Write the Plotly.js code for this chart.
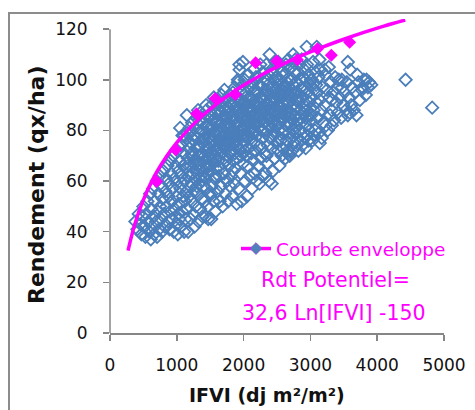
<!DOCTYPE html>
<html>
<head>
<meta charset="utf-8">
<script src="https://cdn.plot.ly/plotly-3.0.1.min.js"></script>
<style>html,body{margin:0;padding:0;background:#fff;}#chart{width:475px;height:410px;}</style>
</head>
<body>
<div id="chart"></div>
<script>
// Nuage de points (IFVI, Rendement)
const pts_0_1000 = [[380,44],[410,41],[430,47],[455,43],[470,39],[490,46],[500,50],[520,42],[530,38],[545,47],[560,52],[575,44],[590,40],[600,55],[610,37],[620,49],[635,42],[645,57],[655,46],[660,39],[670,52],[690,44],[700,60],[705,38],[715,48],[725,55],[735,41],[745,62],[750,50],[765,45],[775,58],[780,40],[790,53],[800,64],[810,47],[820,42],[830,56],[840,61],[845,50],[860,66],[865,44],[875,54],[885,59],[890,41],[900,48],[905,68],[915,63],[925,52],[935,45],[940,57],[950,70],[955,40],[965,61],[970,49],[980,66],[990,54],[995,43],[1000,59]];
const pts_1000_2000 = [[1010,72],[1015,39],[1025,64],[1030,51],[1040,45],[1045,68],[1055,57],[1060,74],[1065,42],[1070,62],[1080,48],[1085,78],[1090,54],[1095,66],[1050,81],[1075,59],[1020,47],
[1105,71],[1110,40],[1115,60],[1120,52],[1125,76],[1130,45],[1140,65],[1145,56],[1150,86],[1155,79],[1160,49],[1165,69],[1170,40],[1175,62],[1180,73],[1185,54],[1190,81],[1195,58],[1135,67],[1112,78],
[1205,45],[1210,66],[1215,75],[1220,59],[1225,52],[1230,83],[1235,70],[1240,63],[1245,47],[1250,78],[1255,56],[1260,68],[1265,42],[1270,81],[1275,61],[1280,73],[1285,50],[1290,65],[1295,85],[1298,58],[1228,71],[1262,76],
[1305,55],[1310,77],[1315,63],[1320,70],[1325,44],[1330,84],[1335,67],[1340,59],[1345,74],[1350,49],[1355,87],[1360,62],[1365,80],[1370,53],[1375,71],[1380,65],[1385,46],[1390,83],[1395,76],[1398,58],[1318,88],[1342,79],[1372,60],
[1405,68],[1410,85],[1415,52],[1420,74],[1425,61],[1430,79],[1435,46],[1440,66],[1445,88],[1450,57],[1455,72],[1460,82],[1465,63],[1470,45],[1475,77],[1480,69],[1485,55],[1490,86],[1495,73],[1412,62],[1438,90],[1462,50],[1488,66],
[1505,80],[1510,64],[1515,45],[1520,71],[1525,90],[1530,58],[1535,76],[1540,84],[1545,67],[1550,52],[1555,93],[1560,74],[1565,61],[1570,87],[1575,70],[1580,48],[1585,79],[1590,65],[1595,83],[1522,55],[1548,78],[1572,62],[1598,91],
[1605,72],[1610,56],[1615,86],[1620,68],[1625,92],[1630,62],[1635,79],[1640,52],[1645,75],[1650,88],[1655,65],[1660,83],[1665,58],[1670,71],[1675,90],[1680,77],[1685,50],[1690,67],[1695,85],[1618,80],[1642,70],[1668,94],[1692,74],
[1705,82],[1710,63],[1715,88],[1720,73],[1725,55],[1730,79],[1735,92],[1740,68],[1745,85],[1750,60],[1755,76],[1760,89],[1765,70],[1770,52],[1775,83],[1780,66],[1785,94],[1790,78],[1795,58],[1712,96],[1738,74],[1762,81],[1788,71],
[1805,87],[1810,72],[1815,62],[1820,91],[1825,80],[1830,54],[1835,75],[1840,95],[1845,68],[1850,84],[1855,77],[1860,59],[1865,89],[1870,71],[1875,82],[1880,65],[1885,93],[1890,78],[1895,51],[1818,85],[1842,64],[1868,97],[1892,74],
[1905,83],[1910,69],[1915,99],[1920,76],[1925,57],[1930,88],[1935,80],[1940,104],[1945,72],[1950,92],[1955,63],[1960,85],[1965,78],[1970,52],[1975,95],[1980,74],[1985,88],[1990,67],[1995,81],[1912,90],[1938,106],[1962,70],[1988,98],[1990,107],[1915,100]];
const pts_2000_3000 = [[2005,86],[2010,76],[2015,100],[2020,60],[2025,91],[2030,82],[2035,70],[2040,95],[2045,78],[2050,54],[2055,88],[2060,84],[2065,66],[2070,102],[2075,80],[2080,73],[2085,93],[2090,62],[2095,87],[2018,72],[2042,90],[2068,77],[2092,97],
[2105,82],[2110,93],[2115,71],[2120,88],[2125,57],[2130,99],[2135,79],[2140,85],[2145,68],[2150,104],[2155,90],[2160,75],[2165,63],[2170,96],[2175,83],[2180,72],[2185,101],[2190,87],[2195,60],[2118,77],[2142,97],[2168,80],[2192,92],
[2205,78],[2210,95],[2215,86],[2220,66],[2225,101],[2230,81],[2235,91],[2240,59],[2245,74],[2250,106],[2255,88],[2260,69],[2265,97],[2270,84],[2275,77],[2280,93],[2285,62],[2290,103],[2295,80],[2218,89],[2242,98],[2268,73],[2292,87],
[2305,94],[2310,83],[2315,71],[2320,100],[2325,63],[2330,89],[2335,79],[2340,106],[2345,86],[2350,67],[2355,96],[2360,82],[2365,74],[2370,102],[2375,90],[2380,60],[2385,85],[2390,110],[2395,77],[2318,92],[2342,70],[2368,98],[2392,88],
[2405,92],[2410,81],[2415,104],[2420,59],[2425,87],[2430,73],[2435,97],[2440,64],[2445,84],[2450,100],[2455,78],[2460,93],[2465,69],[2470,107],[2475,88],[2480,82],[2485,96],[2490,75],[2495,90],[2418,86],[2442,103],[2468,79],[2492,101],
[2505,86],[2510,98],[2515,72],[2520,93],[2525,80],[2530,105],[2535,66],[2540,89],[2545,83],[2550,100],[2555,76],[2560,94],[2565,87],[2570,70],[2575,103],[2580,91],[2585,79],[2590,73],[2595,97],[2518,107],[2542,77],[2568,96],[2592,85],
[2605,90],[2610,102],[2615,80],[2620,95],[2625,69],[2630,86],[2635,106],[2640,76],[2645,92],[2650,99],[2655,83],[2660,72],[2665,96],[2670,88],[2675,104],[2680,79],[2685,91],[2690,70],[2695,85],[2618,98],[2642,82],[2668,108],[2692,94],[2660,71],
[2705,100],[2710,87],[2715,77],[2720,105],[2725,93],[2730,72],[2735,84],[2740,98],[2745,90],[2750,80],[2755,103],[2760,75],[2765,95],[2770,86],[2775,108],[2780,82],[2785,92],[2790,74],[2795,99],[2718,96],[2742,110],[2768,79],[2792,89],
[2805,95],[2810,84],[2815,103],[2820,72],[2825,91],[2830,98],[2835,80],[2840,106],[2845,88],[2850,76],[2855,100],[2860,93],[2865,83],[2870,108],[2875,74],[2880,96],[2885,87],[2890,101],[2895,79],[2818,92],[2842,85],[2868,97],
[2905,90],[2910,104],[2915,77],[2920,97],[2925,85],[2930,73],[2935,100],[2940,92],[2945,82],[2950,106],[2955,88],[2960,78],[2965,95],[2970,76],[2975,102],[2980,86],[2985,91],[2990,80],[2995,98],[2945,113]];
const pts_3000_plus = [[3005,84],[3010,100],[3020,93],[3030,76],[3040,107],[3050,88],[3060,96],[3070,80],[3080,103],[3090,91],[3095,113],[3015,86],[3055,78],[3085,98],[3020,100],
[3105,95],[3110,85],[3120,101],[3130,79],[3140,92],[3150,104],[3160,88],[3170,77],[3180,97],[3190,83],[3135,108],[3140,75],
[3210,90],[3220,102],[3235,82],[3250,96],[3260,80],[3275,105],[3285,93],[3295,86],[3215,104],
[3310,99],[3320,88],[3340,95],[3355,84],[3370,101],[3385,91],[3395,97],[3320,82],[3320,92],
[3410,87],[3425,100],[3440,93],[3460,85],[3475,97],[3490,90],[3470,100],
[3510,95],[3530,88],[3545,99],[3560,86],[3580,93],[3595,104],[3560,107],[3590,87],
[3610,90],[3625,97],[3650,88],[3670,95],[3690,86],[3700,102],
[3720,99],[3740,92],[3770,96],[3780,97],[3800,100],[3830,94],[3840,100],[3860,97],[3880,99],[3910,98],
[4425,100],[4823,89]];
// Points supplémentaires du cœur dense du nuage
const pts_coeur = [[1320,74],[1360,70],[1400,77],[1450,81],[1480,75],[1530,82],[1560,79],[1600,84],[1630,76],[1660,87],[1700,80],[1720,86],[1750,83],[1780,89],[1800,81],[1830,90],[1860,85],[1880,88],[1900,79],[1920,92],[1950,86],[1970,90],[2000,84],[2030,93],[2060,89],[2090,83],[2120,92],[2150,86],[2180,95],[2200,90],[2230,85],[2260,93],[2290,89],[2320,96],[2350,91],[2380,94],[2410,89],[2440,95],[2470,92],[2500,95],[2530,90],[2560,98],[2600,94],[2630,97],[2660,91],[2700,95],
[1420,70],[1470,66],[1520,68],[1580,72],[1630,73],[1690,78],[1730,76],[1790,74],[1840,79],[1880,76],[1930,83],[1980,80],[2020,78],[2070,85],[2110,80],[2160,83],[2210,83],[2260,80],[2310,87],[2360,85],[2420,83],[2470,86],[2520,88],[2570,85],[2620,88],[2680,86]];

// Points de la courbe enveloppe (marqueurs magenta)
const envIfvi = [698, 985, 1295, 1577, 1875, 2180, 2496, 2805, 3106, 3313, 3587];
const envRdt  = [59.8, 72.4, 86.6, 92.6, 94.2, 106.7, 107.4, 107.9, 112.3, 109.7, 114.8];

// Courbe Rdt Potentiel = 32,6 Ln[IFVI] - 150
const curveIfvi = [270, 300, 350, 400, 450, 500, 550, 600, 700, 850, 1000, 1200, 1400, 1600, 1800, 2000, 2300, 2600, 2900, 3200, 3500, 3800, 4100, 4420];
const curveRdt  = [32.5, 35.9, 41.0, 45.3, 49.2, 52.6, 55.7, 58.5, 63.6, 69.9, 75.2, 81.1, 86.2, 90.5, 94.4, 97.8, 102.4, 106.3, 109.9, 113.1, 116.0, 118.7, 121.2, 123.6];

const xTicks = [0, 1000, 2000, 3000, 4000, 5000];
const yTicks = [0, 20, 40, 60, 80, 100, 120];

const cloud = pts_0_1000.concat(pts_1000_2000, pts_2000_3000, pts_3000_plus, pts_coeur);
const BLUE = '#4A7EBB', MAG = '#FF00FF', GREY = '#868686';
const FONT = 'DejaVu Sans, sans-serif';

const traces = [
  {x: cloud.map(p => p[0]), y: cloud.map(p => p[1]), type: 'scatter', mode: 'markers', showlegend: false,
   marker: {symbol: 'diamond-open', size: 9.5, color: BLUE, line: {width: 1.8, color: BLUE}}, cliponaxis: false},
  {x: curveIfvi, y: curveRdt, type: 'scatter', mode: 'lines', showlegend: false,
   line: {color: MAG, width: 3.5, shape: 'spline'}},
  {x: envIfvi, y: envRdt, type: 'scatter', mode: 'markers', showlegend: false,
   marker: {symbol: 'diamond', size: 10, color: MAG}},
  {x: [null], y: [null], type: 'scatter', mode: 'lines+markers', name: 'Courbe enveloppe', showlegend: true,
   line: {color: MAG, width: 3.5}, marker: {symbol: 'diamond', size: 9, color: '#4F81BD', line: {width: 1, color: '#8a5fc0'}}}
];

const W = 475, H = 410, L = 110, R = 31, T = 19, B = 77;
const pw = W - L - R, ph = H - T - B;
const px2x = px => (px - L) / pw;
const py2y = py => (H - B - py) / ph;

const layout = {
  width: W, height: H,
  margin: {l: L, r: R, t: T, b: B, pad: 0},
  paper_bgcolor: '#fff', plot_bgcolor: '#fff',
  font: {family: FONT, color: '#111', size: 17},
  showlegend: true,
  legend: {x: px2x(236), y: py2y(249), xanchor: 'left', yanchor: 'middle', bgcolor: 'rgba(0,0,0,0)',
           font: {family: FONT, size: 18.5, color: MAG}, itemwidth: 30},
  xaxis: {range: [0, 5000], tickvals: xTicks, ticktext: xTicks.map(String), showgrid: false, zeroline: false,
          showline: true, linecolor: GREY, linewidth: 1.5, ticks: 'outside', ticklen: 6, tickwidth: 1.5, tickcolor: GREY,
          tickfont: {family: FONT, size: 17, color: '#111'}, ticklabelstandoff: 10, fixedrange: true},
  yaxis: {range: [0, 124], tickvals: yTicks, ticktext: yTicks.map(String), showgrid: false, zeroline: false,
          showline: false, ticks: 'outside', ticklen: 6, tickwidth: 1.5, tickcolor: GREY,
          tickfont: {family: FONT, size: 17, color: '#111'}, ticklabelstandoff: 12, fixedrange: true},
  shapes: [
    {type: 'line', xref: 'paper', yref: 'y', x0: 0, x1: 0, y0: 0, y1: 120, line: {color: GREY, width: 1.5}},
    {type: 'rect', xref: 'paper', yref: 'paper', x0: px2x(9), x1: px2x(490), y0: py2y(13), y1: py2y(430),
     line: {color: '#8c8c8c', width: 2}, layer: 'below'}
  ],
  annotations: [
    {text: 'Rdt Potentiel=', xref: 'paper', yref: 'paper', x: px2x(335), y: py2y(280), xanchor: 'center', yanchor: 'middle',
     showarrow: false, font: {family: FONT, size: 20.5, color: MAG}},
    {text: '32,6 Ln[IFVI] -150', xref: 'paper', yref: 'paper', x: px2x(334), y: py2y(313), xanchor: 'center', yanchor: 'middle',
     showarrow: false, font: {family: FONT, size: 20.5, color: MAG}},
    {text: '<b>IFVI (dj m²/m²)</b>', xref: 'paper', yref: 'paper', x: px2x(267), y: py2y(395), xanchor: 'center', yanchor: 'middle',
     showarrow: false, font: {family: FONT, size: 19, color: '#111'}},
    {text: '<b>Rendement (qx/ha)</b>', xref: 'paper', yref: 'paper', x: px2x(36), y: py2y(185), xanchor: 'center', yanchor: 'middle',
     textangle: -90, showarrow: false, font: {family: FONT, size: 22, color: '#111'}}
  ]
};

Plotly.newPlot('chart', traces, layout, {displayModeBar: false, staticPlot: true});
</script>
</body>
</html>
